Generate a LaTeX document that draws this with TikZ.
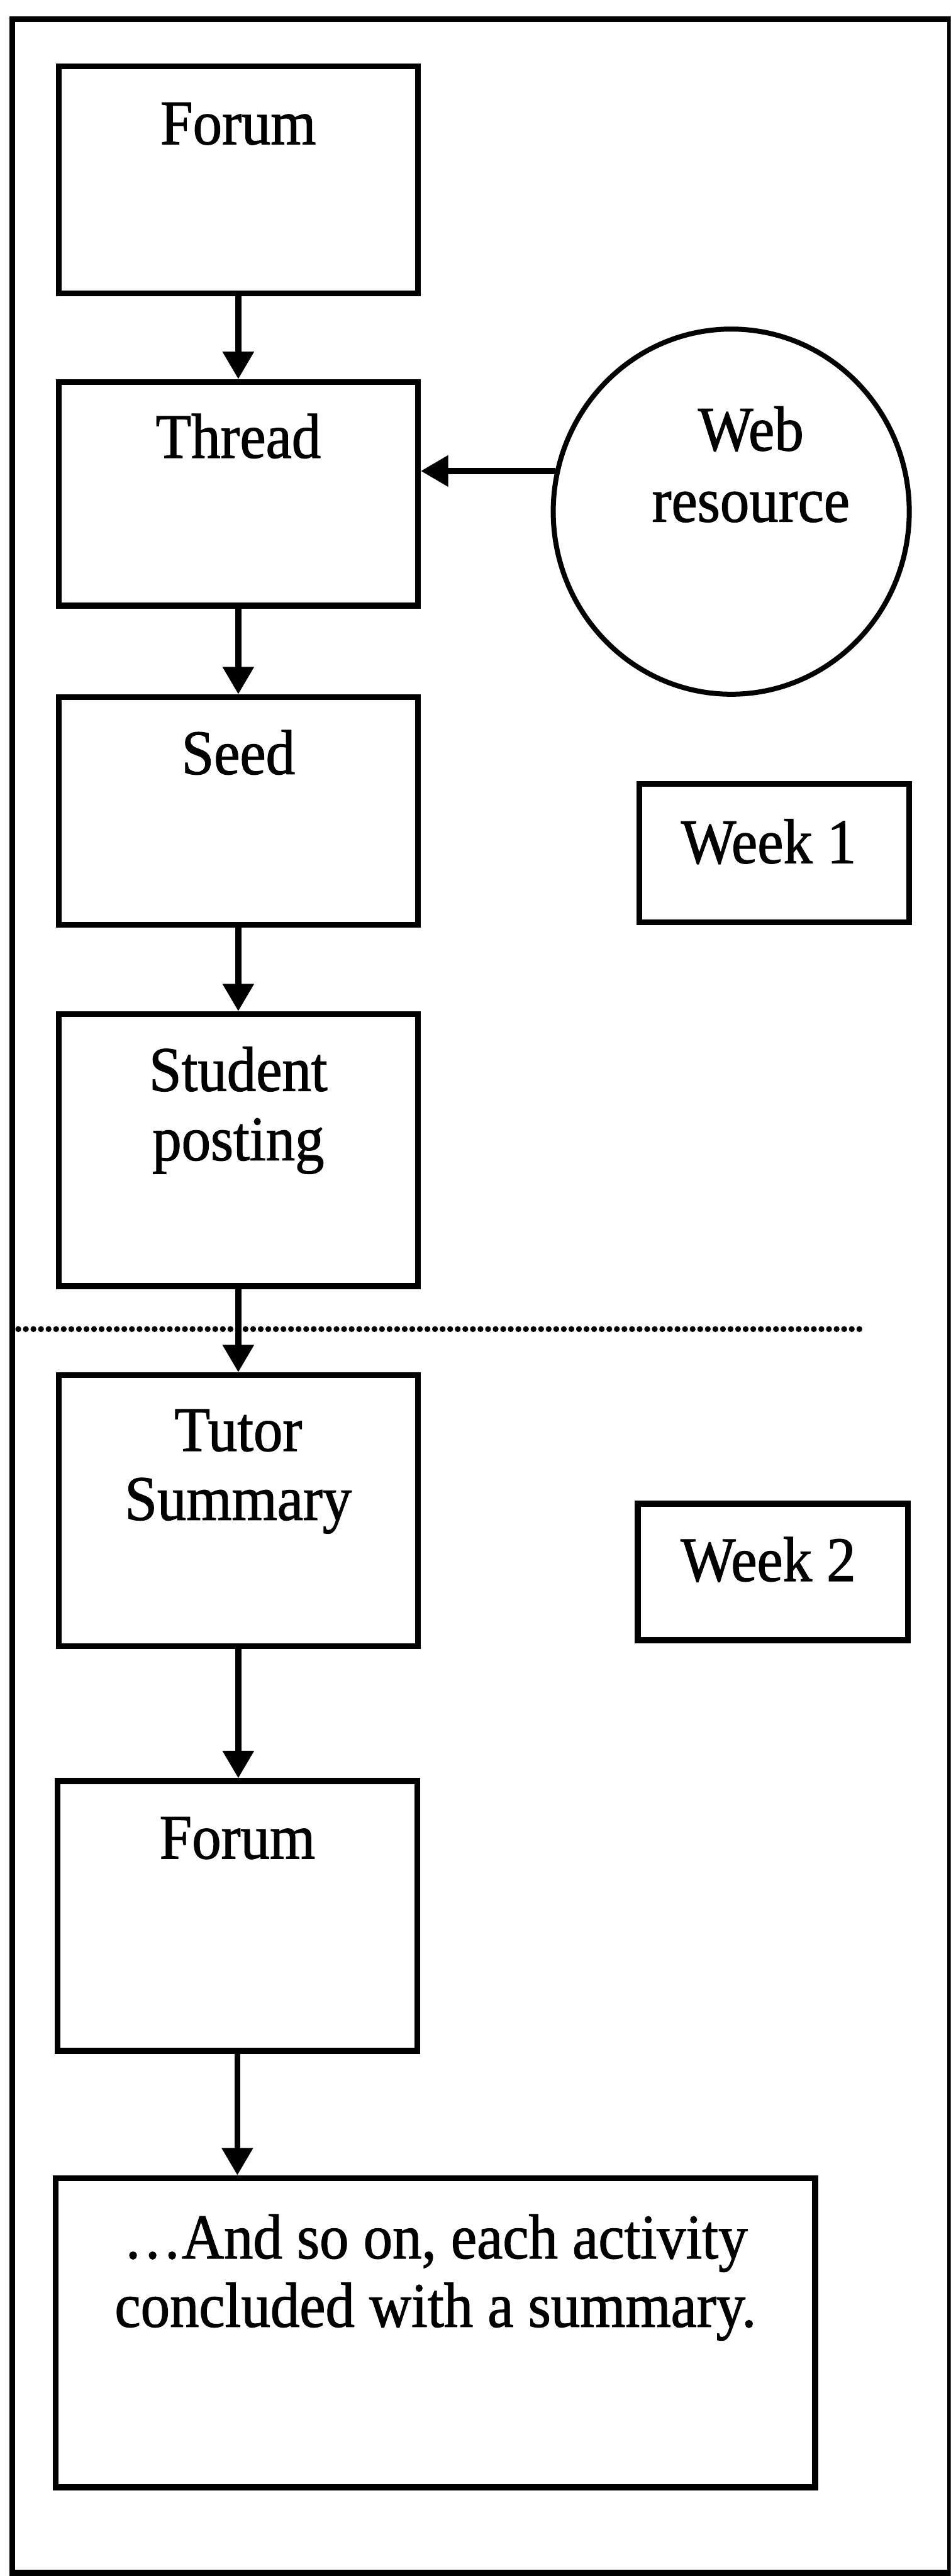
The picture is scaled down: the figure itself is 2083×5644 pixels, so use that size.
\documentclass[tikz,border=0pt]{standalone}
\usepackage{fontspec}
\setmainfont[FakeStretch=0.92, FakeBold=1.2]{Liberation Serif}
\usetikzlibrary{arrows.meta,shapes.geometric}

\tikzset{
  stepbox/.style={draw, line width=6.5pt, inner sep=0pt, rectangle},
  weekbox/.style={draw, line width=6.5pt, inner sep=0pt, rectangle},
  resource/.style={draw, line width=5.5pt, inner sep=0pt, ellipse},
  lbl/.style={anchor=base, inner sep=0pt, font=\fontsize{69.5pt}{76pt}\selectfont},
  arr/.style={line width=6.5pt, -{Triangle[length=30pt, width=33pt]}},
  frame/.style={line width=6.5pt},
  divider/.style={line width=6.5pt, line cap=round, dash pattern=on 0pt off 8.3pt},
}

\begin{document}
\begin{tikzpicture}[x=0.5pt, y=-0.5pt]
  \useasboundingbox (0,0) rectangle (2083,5644);
  \clip (0,0) rectangle (2083,5644);

  % outer frame
  \draw[frame] (27,42) rectangle (2081,5637);

  % flow boxes
  \node[stepbox, minimum width=393.5pt, minimum height=249pt] (forum1) at (522,394) {};
  \node[stepbox, minimum width=393.5pt, minimum height=245pt] (thread) at (522,1082) {};
  \node[stepbox, minimum width=393.5pt, minimum height=249.5pt] (seed) at (522,1777) {};
  \node[stepbox, minimum width=393.5pt, minimum height=298pt] (student) at (522,2520) {};
  \node[stepbox, minimum width=393.5pt, minimum height=297pt] (tutor) at (522,3310) {};
  \node[stepbox, minimum width=394pt, minimum height=295.5pt] (forum2) at (520,4198) {};
  \node[stepbox, minimum width=832pt, minimum height=338.5pt] (last) at (954,5111) {};

  % side elements
  \node[resource, minimum width=390pt, minimum height=400pt] (web) at (1602,1121) {};
  \node[weekbox, minimum width=295.5pt, minimum height=151.5pt] (week1) at (1696,1869) {};
  \node[weekbox, minimum width=296pt, minimum height=149.5pt] (week2) at (1693,3444) {};

  % labels
  \node[lbl] (forum1t) at (522,316) {Forum};
  \node[lbl] (threadt) at (522,1003) {Thread};
  \node[lbl] (seedt) at (522,1696) {Seed};
  \node[lbl] (studentt1) at (522,2390) {Student};
  \node[lbl] (studentt2) at (522,2542) {posting};
  \node[lbl] (tutort1) at (522,3179) {Tutor};
  \node[lbl] (tutort2) at (522,3330) {Summary};
  \node[lbl] (forum2t) at (520,4072) {Forum};
  \node[lbl] (lastt1) at (954,4948) {…And so on, each activity};
  \node[lbl] (lastt2) at (954,5098) {concluded with a summary.};
  \node[lbl] (webt1) at (1645,987) {Web};
  \node[lbl] (webt2) at (1645,1143) {resource};
  \node[lbl] (week1t) at (1684,1891) {Week 1};
  \node[lbl] (week2t) at (1683,3464) {Week 2};

  % week divider
  \draw[divider] (40,2912) -- (1883,2912);

  % connectors
  \draw[arr] (forum1.south) -- (thread.north);
  \draw[arr] (thread.south) -- (seed.north);
  \draw[arr] (seed.south) -- (student.north);
  \draw[arr] (student.south) -- (tutor.north);
  \draw[arr] (tutor.south) -- (tutor.south |- forum2.north);
  \draw[arr] (forum2.south) -- (forum2.south |- last.north);
  \draw[arr] (web.167) -- (web.167 -| thread.east);
\end{tikzpicture}
\end{document}
